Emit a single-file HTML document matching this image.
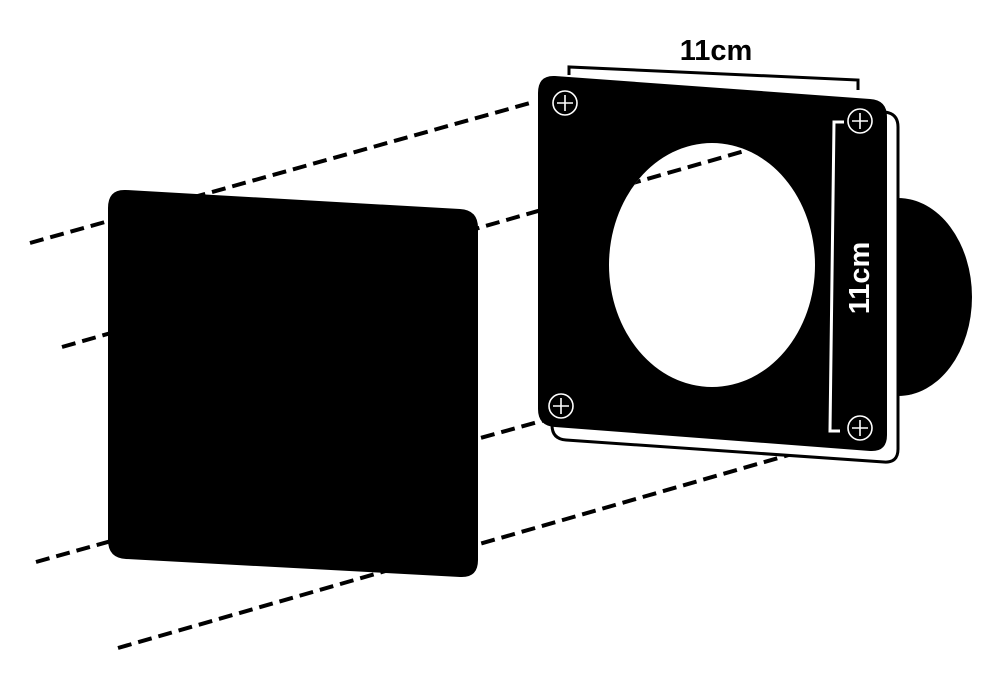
<!DOCTYPE html>
<html><head><meta charset="utf-8"><style>html,body{margin:0;padding:0;background:#fff;}svg{display:block}</style></head>
<body>
<svg width="1000" height="700" viewBox="0 0 1000 700" xmlns="http://www.w3.org/2000/svg">
<defs><clipPath id="hole"><ellipse cx="712" cy="265" rx="103" ry="122"/></clipPath></defs>
<g stroke="#000" stroke-width="4" stroke-dasharray="14 7" fill="none">
<line x1="30" y1="243" x2="530" y2="103"/>
<line x1="62" y1="347" x2="545" y2="209"/>
<line x1="36" y1="562" x2="545" y2="420"/>
<line x1="118" y1="648" x2="820" y2="446"/>
</g>
<ellipse cx="898" cy="297" rx="74" ry="99" fill="#000"/>
<path d="M562 90 L884 112 Q898 113 898 127 L898 449 Q898 463 884 462 L566 440 Q552 439 552 425 L552 104 Q552 89 562 90 Z" fill="#fff" stroke="#000" stroke-width="3"/>
<path d="M126 190 L460 209 Q478 210 478 228 L478 560 Q478 578 460 577 L126 559 Q108 558 108 540 L108 208 Q108 189 126 190 Z" fill="#000"/>
<path d="M555 76 L870 99 Q887 100 887 117 L887 435 Q887 452 870 451 L555 427 Q538 426 538 409 L538 93 Q538 75 555 76 Z" fill="#000"/>
<ellipse cx="712" cy="265" rx="103" ry="122" fill="#fff"/>
<g clip-path="url(#hole)"><line x1="62" y1="347" x2="748" y2="150" stroke="#000" stroke-width="4" stroke-dasharray="14 7"/></g>
<g stroke="#fff" stroke-width="1.6" fill="none">
<circle cx="565" cy="103" r="12"/><path d="M557 103h16M565 95v16"/>
<circle cx="860" cy="121" r="12"/><path d="M852 121h16M860 113v16"/>
<circle cx="561" cy="406" r="12"/><path d="M553 406h16M561 398v16"/>
<circle cx="860" cy="428" r="12"/><path d="M852 428h16M860 420v16"/>
</g>
<path d="M569 75 L569 67 L858 80 L858 90" fill="none" stroke="#000" stroke-width="3"/>
<text x="716" y="60" text-anchor="middle" font-family="Liberation Sans, sans-serif" font-weight="bold" font-size="29" fill="#000">11cm</text>
<path d="M844 122 L834 122 L830 431 L840 431" fill="none" stroke="#fff" stroke-width="3"/>
<text transform="translate(869,278) rotate(-90)" text-anchor="middle" font-family="Liberation Sans, sans-serif" font-weight="bold" font-size="29" fill="#fff">11cm</text>
</svg>
</body></html>
